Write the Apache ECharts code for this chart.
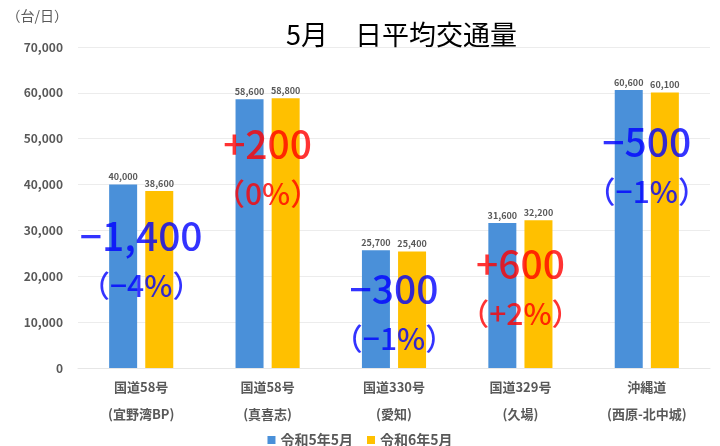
<!DOCTYPE html>
<html lang="ja">
<head>
<meta charset="UTF-8">
<title>5月 日平均交通量</title>
<script src="https://cdn.jsdelivr.net/npm/echarts@6/dist/echarts.min.js"></script>
<style>
  html, body { margin: 0; padding: 0; background: #fff; }
  #main { width: 720px; height: 446px; }
</style>
</head>
<body>
<div id="main"></div>
<script>
// data
var categories = ['国道58号\n(宜野湾BP)', '国道58号\n(真喜志)', '国道330号\n(愛知)', '国道329号\n(久場)', '沖縄道\n(西原-北中城)'];
var seriesNames = ['令和5年5月', '令和6年5月'];
var r5Values = [40000, 58600, 25700, 31600, 60600];
var r6Values = [38600, 58800, 25400, 32200, 60100];
var diffText = ['−1,400', '+200', '−300', '+600', '−500'];
var pctText = ['（−4%）', '（0%）', '（−1%）', '（+2%）', '（−1%）'];

// where each annotation block sits (value on the y axis)
var noteY = [23300, 43400, 11800, 17200, 43900];

var FONT = '"Noto Sans CJK JP", "Noto Sans", sans-serif';
var GRAY = '#595959';

var notes = categories.map(function (c, i) {
  var up = diffText[i].charAt(0) === '+';
  var col = up ? '#ff0000' : '#0000ff';
  return {
    value: [i, noteY[i]],
    label: {
      rich: {
        d: { color: col, fontSize: 39, fontWeight: 500, lineHeight: 49, fontFamily: FONT },
        p: { color: col, fontSize: 30, fontWeight: 500, lineHeight: 49, fontFamily: FONT }
      }
    }
  };
});

var numFmt = function (v) { return v.toLocaleString('en-US'); };

var chart = echarts.init(document.getElementById('main'));
chart.setOption({
  backgroundColor: '#fff',
  animation: false,
  title: {
    text: '5月　日平均交通量',
    left: 281,
    top: 16,
    textStyle: { fontSize: 27, fontWeight: 'normal', color: '#000', fontFamily: FONT }
  },
  legend: {
    data: seriesNames,
    left: 'center',
    top: 428,
    itemWidth: 8,
    itemHeight: 8,
    itemGap: 14,
    icon: 'rect',
    textStyle: { fontSize: 14, fontWeight: 'bold', color: GRAY, fontFamily: FONT }
  },
  grid: { left: 78, right: 10, top: 47, bottom: 78 },
  xAxis: {
    type: 'category',
    data: categories,
    axisLine: { lineStyle: { color: '#e6e6e6' } },
    axisTick: { show: false },
    axisLabel: {
      margin: 6,
      lineHeight: 27,
      fontSize: 13,
      fontWeight: 'bold',
      color: GRAY,
      fontFamily: FONT
    }
  },
  yAxis: {
    type: 'value',
    min: 0,
    max: 70000,
    interval: 10000,
    name: '（台/日）',
    nameLocation: 'end',
    nameGap: 24,
    nameTextStyle: { align: 'right', padding: [0, 10, 0, 0], fontSize: 14, color: GRAY, fontFamily: FONT },
    axisLine: { show: false },
    axisTick: { show: false },
    splitLine: { lineStyle: { color: '#ececec' } },
    axisLabel: {
      margin: 15,
      fontSize: 12,
      fontWeight: 'bold',
      color: GRAY,
      fontFamily: FONT,
      formatter: numFmt
    }
  },
  series: [
    {
      name: seriesNames[0],
      type: 'bar',
      data: r5Values,
      barWidth: 28,
      barGap: '29%',
      itemStyle: { color: '#4a90d9' },
      label: {
        show: true, position: 'top', distance: 3,
        fontSize: 9, fontWeight: 'bold', color: GRAY, fontFamily: FONT,
        formatter: function (p) { return numFmt(p.value); }
      }
    },
    {
      name: seriesNames[1],
      type: 'bar',
      data: r6Values,
      barWidth: 28,
      itemStyle: { color: '#ffc000' },
      label: {
        show: true, position: 'top', distance: 3,
        fontSize: 9, fontWeight: 'bold', color: GRAY, fontFamily: FONT,
        formatter: function (p) { return numFmt(p.value); }
      }
    },
    {
      type: 'scatter',
      symbolSize: 0,
      silent: true,
      z: 10,
      data: notes,
      label: {
        show: true,
        position: 'inside',
        align: 'center',
        verticalAlign: 'middle',
        formatter: function (p) {
          return '{d|' + diffText[p.dataIndex] + '}\n{p|' + pctText[p.dataIndex] + '}';
        }
      }
    }
  ]
});
</script>
</body>
</html>
